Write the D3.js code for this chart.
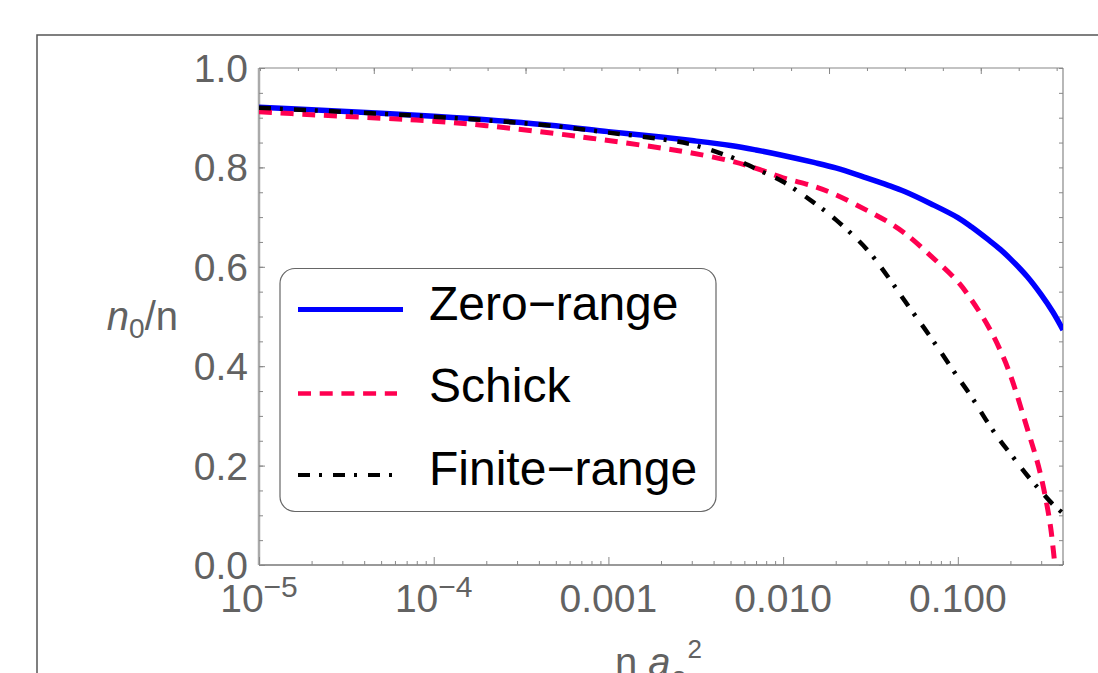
<!DOCTYPE html>
<html><head><meta charset="utf-8">
<script src="https://cdn.jsdelivr.net/npm/d3@7"></script>
<style>html,body{margin:0;padding:0;background:#fff;}svg{display:block;}</style>
</head><body>
<svg id="chart" width="1098" height="673"></svg>
<script>
// ---- data ----
const xValues = [1e-5, 2e-5, 5e-5, 1e-4, 2e-4, 5e-4, 1e-3, 2e-3, 3e-3, 5e-3, 7e-3, 0.01, 0.015, 0.02, 0.03, 0.04, 0.05, 0.07, 0.1, 0.12, 0.15, 0.175, 0.2, 0.25, 0.3, 0.35, 0.4];
const zeroRange = [0.921, 0.916, 0.909, 0.903, 0.896, 0.884, 0.872, 0.861, 0.854, 0.844, 0.835, 0.824, 0.810, 0.799, 0.779, 0.764, 0.751, 0.727, 0.699, 0.680, 0.654, 0.635, 0.616, 0.580, 0.544, 0.509, 0.473];
const schickX = [1e-5, 2e-5, 5e-5, 1e-4, 2e-4, 5e-4, 1e-3, 2e-3, 3e-3, 5e-3, 7e-3, 0.01, 0.015, 0.02, 0.03, 0.04, 0.05, 0.07, 0.1, 0.12, 0.15, 0.175, 0.2, 0.25, 0.29, 0.32, 0.34, 0.352, 0.357];
const schick = [0.912, 0.906, 0.899, 0.893, 0.884, 0.868, 0.854, 0.839, 0.829, 0.813, 0.798, 0.779, 0.762, 0.745, 0.714, 0.690, 0.667, 0.622, 0.570, 0.533, 0.479, 0.432, 0.382, 0.274, 0.198, 0.130, 0.075, 0.030, 0.010];
const finiteRange = [0.920, 0.915, 0.908, 0.902, 0.895, 0.883, 0.870, 0.857, 0.846, 0.821, 0.797, 0.771, 0.729, 0.695, 0.636, 0.579, 0.530, 0.458, 0.378, 0.338, 0.284, 0.250, 0.224, 0.180, 0.148, 0.122, 0.104];
const seriesNames = ["Zero\u2212range", "Schick", "Finite\u2212range"];
const yTickLabels = ["0.0", "0.2", "0.4", "0.6", "0.8", "1.0"];
const yTickValues = [0, 0.2, 0.4, 0.6, 0.8, 1.0];
const xTickValues = [1e-5, 1e-4, 1e-3, 1e-2, 1e-1];
const xTickLabels = [["10", "\u22125"], ["10", "\u22124"], ["0.001"], ["0.010"], ["0.100"]];

// ---- layout ----
const svg = d3.select("#chart");
const L = 259, R = 1063, T = 68, B = 565;
const x = d3.scaleLog().domain([1e-5, 0.4]).range([L, R]);
const y = d3.scaleLinear().domain([0, 1]).range([B, T]);
const font = "'Liberation Sans', Arial, sans-serif";
const labelColor = "#626262";

// outer frame
svg.append("rect").attr("x", 37).attr("y", 35).attr("width", 1100).attr("height", 700)
  .attr("fill", "none").attr("stroke", "#555").attr("stroke-width", 1.5);

// clip
svg.append("clipPath").attr("id", "clip").append("rect")
  .attr("x", L).attr("y", T).attr("width", R - L).attr("height", B - T);

// frame lines
svg.append("line").attr("x1", L).attr("x2", R).attr("y1", T).attr("y2", T).attr("stroke", "#888").attr("stroke-width", 1.2);
svg.append("line").attr("x1", R).attr("x2", R).attr("y1", T).attr("y2", B).attr("stroke", "#888").attr("stroke-width", 1.2);
svg.append("line").attr("x1", L).attr("x2", R).attr("y1", B).attr("y2", B).attr("stroke", "#777").attr("stroke-width", 1.5);
svg.append("line").attr("x1", L).attr("x2", L).attr("y1", T).attr("y2", B).attr("stroke", "#aaa").attr("stroke-width", 2.5);

// ticks
function styleAxis(g){ g.select(".domain").remove(); g.selectAll("line").attr("stroke", "#888").attr("stroke-width", 1); g.selectAll("text").remove(); }
const minorX = [];
for (let e = -5; e <= -1; e++) for (let k = 2; k <= 9; k++) { const v = k * Math.pow(10, e); if (v <= 0.4) minorX.push(v); }
svg.append("g").attr("transform", `translate(0,${B})`).call(d3.axisBottom(x).tickValues(xTickValues).tickSize(-8)).call(styleAxis);
svg.append("g").attr("transform", `translate(0,${B})`).call(d3.axisBottom(x).tickValues(minorX).tickSize(-4)).call(styleAxis);

// top ticks: uniform in natural log
const topMinor = d3.range(-11.5, -0.9, 0.5).map(v => Math.exp(v));
const topMajor = [-10, -8, -6, -4, -2].map(v => Math.exp(v));
svg.append("g").attr("transform", `translate(0,${T})`).call(d3.axisTop(x).tickValues(topMinor).tickSize(-3)).call(styleAxis);
svg.append("g").attr("transform", `translate(0,${T})`).call(d3.axisTop(x).tickValues(topMajor).tickSize(-6)).call(styleAxis);

const yMinor = d3.range(0, 1.0001, 0.05);
svg.append("g").attr("transform", `translate(${L},0)`).call(d3.axisLeft(y).tickValues(yMinor).tickSize(-4)).call(styleAxis);
svg.append("g").attr("transform", `translate(${L},0)`).call(d3.axisLeft(y).tickValues(yTickValues).tickSize(-6)).call(styleAxis);
svg.append("g").attr("transform", `translate(${R},0)`).call(d3.axisRight(y).tickValues(yMinor).tickSize(-4)).call(styleAxis);

// y tick labels
svg.append("g").selectAll("text").data(yTickValues).join("text")
  .attr("x", 248).attr("y", d => y(d) + 14).attr("text-anchor", "end")
  .attr("font-family", font).attr("font-size", 39).attr("fill", labelColor)
  .text((d, i) => yTickLabels[i]);

// x tick labels
xTickValues.forEach((v, i) => {
  const lab = xTickLabels[i];
  const t = svg.append("text").attr("x", x(v)).attr("y", 612).attr("text-anchor", "middle")
    .attr("font-family", font).attr("font-size", 39).attr("fill", labelColor);
  t.append("tspan").text(lab[0]);
  if (lab.length > 1) t.append("tspan").attr("font-size", 30).attr("dy", -15).text(lab[1]);
});

// axis titles
const yt = svg.append("text").attr("x", 178).attr("y", 330).attr("text-anchor", "end")
  .attr("font-family", font).attr("font-size", 40).attr("fill", labelColor);
yt.append("tspan").attr("font-style", "italic").text("n");
yt.append("tspan").attr("font-size", 28).attr("dy", 8).text("0");
yt.append("tspan").attr("dy", -8).text("/n");

const xt = svg.append("text").attr("x", 615).attr("y", 676).attr("text-anchor", "start")
  .attr("font-family", font).attr("font-size", 40).attr("fill", labelColor);
xt.append("tspan").text("n ");
xt.append("tspan").attr("font-style", "italic").text("a");
xt.append("tspan").attr("font-size", 26).attr("dy", 9).attr("dx", 2).text("s");
xt.append("tspan").attr("font-size", 26).attr("dy", -27).attr("dx", 2).text("2");

// curves
const plot = svg.append("g").attr("clip-path", "url(#clip)");
const line = d3.line().x(d => x(d[0])).y(d => y(d[1])).curve(d3.curveCatmullRom.alpha(0.5));
const styles = [
  { color: "#0000ff", width: 5.5, dash: null },
  { color: "#ff0050", width: 5, dash: "13 8.7" },
  { color: "#000000", width: 4.5, dash: "12 9 3 11" }
];
const series = [
  xValues.map((v, i) => [v, zeroRange[i]]),
  schickX.map((v, i) => [v, schick[i]]),
  xValues.map((v, i) => [v, finiteRange[i]])
];
[0, 1, 2].forEach(i => {
  plot.append("path").attr("d", line(series[i])).attr("fill", "none")
    .attr("stroke", styles[i].color).attr("stroke-width", styles[i].width)
    .attr("stroke-dasharray", styles[i].dash);
});

// legend
const lg = svg.append("g");
lg.append("rect").attr("x", 280).attr("y", 268.5).attr("width", 436).attr("height", 243)
  .attr("rx", 15).attr("fill", "#fff").attr("stroke", "#666").attr("stroke-width", 1.2);
const legY = [309.5, 393.5, 475];
const legTextY = [320, 402, 485];
const legLineEnd = [403, 397, 397];
seriesNames.forEach((name, i) => {
  lg.append("line").attr("x1", 298).attr("x2", legLineEnd[i]).attr("y1", legY[i]).attr("y2", legY[i])
    .attr("stroke", styles[i].color).attr("stroke-width", styles[i].width - 0.5)
    .attr("stroke-dasharray", styles[i].dash);
  lg.append("text").attr("x", 429).attr("y", legTextY[i]).attr("font-family", font)
    .attr("font-size", 48).attr("fill", "#000").text(name);
});
</script>
</body></html>
